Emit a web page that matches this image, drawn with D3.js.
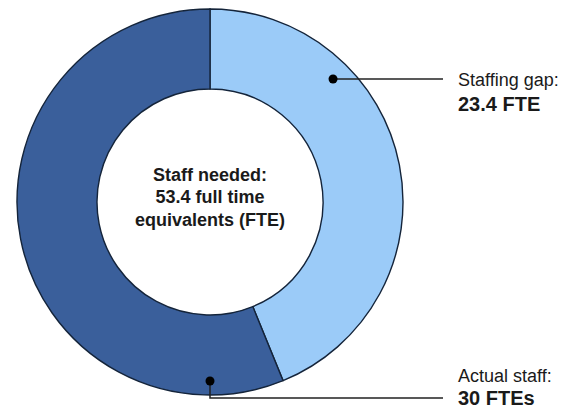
<!DOCTYPE html>
<html>
<head>
<meta charset="utf-8">
<script src="https://cdn.jsdelivr.net/npm/d3@7"></script>
<style>
  html, body { margin: 0; padding: 0; background: #fff; }
  svg { display: block; font-family: "Liberation Sans", Arial, Helvetica, sans-serif; }
</style>
</head>
<body>
<svg id="chart" width="566" height="409"></svg>
<script>
const categories = ["Staffing gap", "Actual staff"];
const values = [23.4, 30];
const labelTitles = ["Staffing gap:", "Actual staff:"];
const labelValues = ["23.4 FTE", "30 FTEs"];
const centerLines = ["Staff needed:", "53.4 full time", "equivalents (FTE)"];
const colors = ["#9BCBF8", "#3A5F9B"];

const svg = d3.select("#chart");
const cx = 210, cy = 202, outerR = 193, innerR = 113;

const pie = d3.pie().sort(null).value(d => d.value)
  .startAngle(0).endAngle(2 * Math.PI);
const arcs = pie(categories.map((c, i) => ({ cat: c, value: values[i] })));
const arc = d3.arc().innerRadius(innerR).outerRadius(outerR);

const g = svg.append("g").attr("transform", `translate(${cx},${cy})`);
g.selectAll("path.slice").data(arcs).enter().append("path")
  .attr("class", "slice")
  .attr("d", arc)
  .attr("fill", (d, i) => colors[i])
  .attr("stroke", "#14243a")
  .attr("stroke-width", 1.4);

// center text
const ct = g.append("text").attr("text-anchor", "middle")
  .attr("font-weight", "bold").attr("font-size", 18).attr("fill", "#1a1a1a");
centerLines.forEach((t, i) => {
  ct.append("tspan").attr("x", 0).attr("y", -21.5 + i * 22.5).text(t);
});

// callouts
const labelX = 458;
const dotAngles = [Math.PI / 4, Math.PI];
const dotRadii = [174, 179];
const polar = (a, r) => [r * Math.sin(a), -r * Math.cos(a)];

// Staffing gap
{
  const [dx, dy] = polar(dotAngles[0], dotRadii[0]);
  const px = cx + dx, py = cy + dy;
  svg.append("line").attr("x1", px).attr("y1", py).attr("x2", 443).attr("y2", py)
    .attr("stroke", "#222").attr("stroke-width", 1.5);
  svg.append("circle").attr("cx", px).attr("cy", py).attr("r", 4.5).attr("fill", "#000");
  svg.append("text").attr("x", labelX).attr("y", 86).attr("font-size", 18)
    .attr("fill", "#1a1a1a").text(labelTitles[0]);
  svg.append("text").attr("x", labelX).attr("y", 111).attr("font-size", 20)
    .attr("font-weight", "bold").attr("fill", "#1a1a1a").text(labelValues[0]);
}
// Actual staff
{
  const [dx, dy] = polar(dotAngles[1], dotRadii[1]);
  const px = cx + dx, py = cy + dy;
  svg.append("path").attr("d", `M${px},${py}V398H443`)
    .attr("fill", "none").attr("stroke", "#222").attr("stroke-width", 1.5);
  svg.append("circle").attr("cx", px).attr("cy", py).attr("r", 4.5).attr("fill", "#000");
  svg.append("text").attr("x", labelX).attr("y", 382).attr("font-size", 18)
    .attr("fill", "#1a1a1a").text(labelTitles[1]);
  svg.append("text").attr("x", labelX).attr("y", 404.5).attr("font-size", 20)
    .attr("font-weight", "bold").attr("fill", "#1a1a1a").text(labelValues[1]);
}
</script>
</body>
</html>
